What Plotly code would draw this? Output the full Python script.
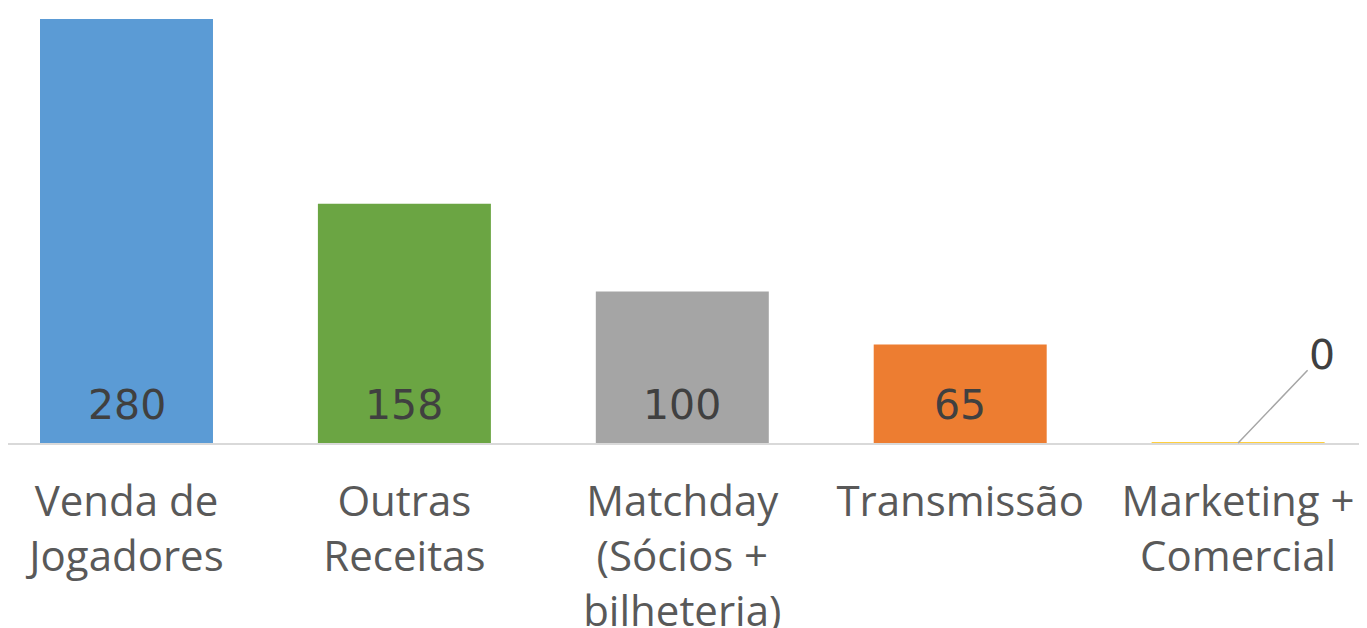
import plotly.graph_objects as go

categories = ["Venda de<br>Jogadores", "Outras<br>Receitas", "Matchday<br>(Sócios +<br>bilheteria)",
              "Transmissão", "Marketing +<br>Comercial"]
values = [280, 158, 100, 65, 0]
colors = ["#5B9BD5", "#6BA543", "#A5A5A5", "#ED7D31", "#FFC000"]

x_idx = list(range(len(categories)))
NUM_FONT = dict(family="DejaVu Sans, sans-serif", size=41, color="#404040")

fig = go.Figure()
fig.add_trace(go.Bar(
    x=x_idx, y=values,
    marker=dict(color=colors, line=dict(color=colors, width=[0, 0, 0, 0, 1.5])),
    width=0.6225,
    cliponaxis=False,
    hoverinfo="skip",
))

# value labels inside the bars, near the base
for i, v in enumerate(values):
    if v > 0:
        fig.add_annotation(x=i, y=0, xref="x", yref="y", text=str(v),
                           showarrow=False, yanchor="bottom", yshift=12,
                           font=NUM_FONT)

# zero-value label with leader line
fig.add_annotation(
    x=4, y=values[4], xref="x", yref="y",
    text=str(values[4]),
    showarrow=True, arrowhead=0, arrowwidth=1.5, arrowcolor="#A6A6A6",
    ax=84, ay=-88,
    font=NUM_FONT,
)

fig.update_layout(
    width=1359, height=620,
    margin=dict(l=0, r=0, t=0, b=185, autoexpand=False),
    paper_bgcolor="white", plot_bgcolor="white",
    showlegend=False,
    xaxis=dict(
        range=[-0.4264, 4.4638],
        tickmode="array", tickvals=x_idx, ticktext=categories,
        tickfont=dict(family="Open Sans, sans-serif", size=42, color="#595959"),
        showline=True, linecolor="#D9D9D9", linewidth=2,
        showgrid=False, zeroline=False,
        ticks="outside", ticklen=21, tickcolor="rgba(0,0,0,0)",
        tickangle=0, automargin=False,
    ),
    yaxis=dict(range=[0, 287.26], visible=False, showgrid=False, zeroline=False,
               automargin=False),
)

fig.write_html("out.html")
